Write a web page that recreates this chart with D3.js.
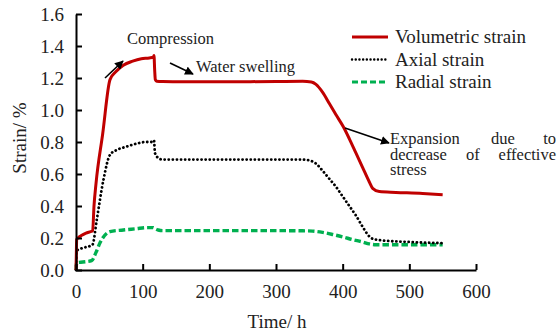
<!DOCTYPE html>
<html>
<head>
<meta charset="utf-8">
<script src="https://cdn.jsdelivr.net/npm/d3@7"></script>
<style>
  html, body { margin: 0; padding: 0; background: #fff; }
  svg text { font-family: "Liberation Serif", "Times New Roman", "DejaVu Serif", serif !important; }
</style>
</head>
<body>
<svg id="chart" width="560" height="336"></svg>
<script>
// Strain histories (time in h, strain in %)
const volTime  = [0, 0.5, 1, 3, 8, 15, 22, 25, 27, 30, 40, 51, 60, 71, 85, 98, 110, 116, 117, 118, 119, 121, 130, 150, 200, 250, 300, 340, 353, 360, 370, 380, 390, 401, 410, 420, 430, 440, 445, 455, 480, 520, 550];
const volValue = [0, 0.1, 0.19, 0.2, 0.215, 0.23, 0.24, 0.245, 0.4, 0.54, 0.85, 1.19, 1.24, 1.28, 1.305, 1.32, 1.325, 1.33, 1.34, 1.25, 1.19, 1.18, 1.178, 1.177, 1.176, 1.177, 1.178, 1.179, 1.175, 1.16, 1.11, 1.04, 0.97, 0.895, 0.82, 0.73, 0.64, 0.55, 0.51, 0.49, 0.485, 0.478, 0.47];

const axTime  = [0, 0.5, 1, 5, 12, 21, 25, 31, 41, 51, 61, 75, 91, 105, 113, 116, 117, 118.5, 123.5, 130, 200, 300, 340, 350, 360, 370, 380, 390, 400, 410, 420, 430, 440, 445, 460, 500, 550];
const axValue = [0, 0.06, 0.12, 0.13, 0.14, 0.15, 0.16, 0.31, 0.56, 0.72, 0.75, 0.77, 0.79, 0.8, 0.8, 0.81, 0.81, 0.73, 0.7, 0.69, 0.69, 0.69, 0.69, 0.685, 0.665, 0.62, 0.57, 0.52, 0.46, 0.4, 0.34, 0.27, 0.21, 0.195, 0.185, 0.175, 0.168];

const radTime  = [0, 0.5, 1, 5, 15, 23.5, 30, 36, 51, 71, 90, 106, 116, 118, 123.5, 130, 200, 300, 340, 355, 370, 385, 400, 415, 430, 440, 450, 500, 550];
const radValue = [0, 0.03, 0.045, 0.048, 0.052, 0.058, 0.11, 0.17, 0.24, 0.25, 0.258, 0.265, 0.265, 0.26, 0.25, 0.246, 0.246, 0.246, 0.245, 0.243, 0.235, 0.222, 0.207, 0.19, 0.175, 0.163, 0.158, 0.158, 0.158];

const xTicks = [0, 100, 200, 300, 400, 500, 600];
const yTicks = [0, 0.2, 0.4, 0.6, 0.8, 1.0, 1.2, 1.4, 1.6];

const seriesNames = ["Volumetric strain", "Axial strain", "Radial strain"];

const svg = d3.select("#chart");

const x = d3.scaleLinear().domain([0, 600]).range([76, 476]);
const y = d3.scaleLinear().domain([0, 1.6]).range([270, 14]);

const styles = [
  { color: "#c00000", width: 3, dash: null, cap: "butt" },
  { color: "#000000", width: 2.8, dash: "0.1 4", cap: "round" },
  { color: "#00b050", width: 3.4, dash: "6.5 3", cap: "butt" }
];

const series = [
  volTime.map((t, i) => [t, volValue[i]]),
  axTime.map((t, i) => [t, axValue[i]]),
  radTime.map((t, i) => [t, radValue[i]])
];

const line = d3.line().x(d => x(d[0])).y(d => y(d[1])).curve(d3.curveMonotoneX);

// Curves: draw radial first so volumetric sits on top
[2, 1, 0].forEach(i => {
  svg.append("path")
    .datum(series[i])
    .attr("fill", "none")
    .attr("stroke", styles[i].color)
    .attr("stroke-width", styles[i].width)
    .attr("stroke-linecap", styles[i].cap)
    .attr("stroke-linejoin", "round")
    .attr("stroke-dasharray", styles[i].dash)
    .attr("d", line);
});

// Axes with inward ticks
const xAxis = svg.append("g")
  .attr("transform", "translate(0,270)")
  .call(d3.axisBottom(x).tickValues(xTicks).tickSizeInner(-6).tickSizeOuter(0).tickPadding(15).tickFormat(d3.format("d")));
const yAxis = svg.append("g")
  .attr("transform", "translate(76,0)")
  .call(d3.axisLeft(y).tickValues(yTicks).tickSizeInner(-6).tickSizeOuter(0).tickPadding(12).tickFormat(d3.format(".1f")));

[xAxis, yAxis].forEach(g => {
  g.attr("font-family", null);
  g.select(".domain").attr("stroke", "#000").attr("stroke-width", 2);
  g.selectAll(".tick line").attr("stroke", "#000").attr("stroke-width", 2);
  g.selectAll(".tick text")
    .attr("font-size", 19)
    .attr("fill", "#222");
});

// Axis titles
svg.append("text")
  .attr("x", 277).attr("y", 328)
  .attr("text-anchor", "middle")
  .attr("font-size", 19).attr("fill", "#222")
  .text("Time/ h");
svg.append("text")
  .attr("transform", "translate(26,138) rotate(-90)")
  .attr("text-anchor", "middle")
  .attr("font-size", 19).attr("fill", "#222")
  .text("Strain/ %");

// Legend
const legend = svg.append("g");
seriesNames.forEach((name, i) => {
  const ly = 37 + i * 22.5;
  legend.append("line")
    .attr("x1", 352).attr("x2", 388)
    .attr("y1", ly).attr("y2", ly)
    .attr("stroke", styles[i].color)
    .attr("stroke-width", i === 1 ? 2.4 : 2.8)
    .attr("stroke-linecap", styles[i].cap)
    .attr("stroke-dasharray", i === 1 ? "0.1 3.6" : (i === 2 ? "6 3" : null));
  legend.append("text")
    .attr("x", 395).attr("y", ly + 6)
    .attr("font-size", 19).attr("fill", "#222")
    .text(name);
});

// Annotations
const defs = svg.append("defs");
defs.append("marker")
  .attr("id", "arrowhead")
  .attr("viewBox", "0 0 10 10")
  .attr("refX", 9).attr("refY", 5)
  .attr("markerWidth", 5.5).attr("markerHeight", 5.5)
  .attr("orient", "auto")
  .append("path")
  .attr("d", "M0,0 L10,5 L0,10 z")
  .attr("fill", "#000");

const arrows = [
  [105, 78, 123, 61],
  [170, 63, 193, 74],
  [345, 128, 389, 143]
];
arrows.forEach(a => {
  svg.append("line")
    .attr("x1", a[0]).attr("y1", a[1]).attr("x2", a[2]).attr("y2", a[3])
    .attr("stroke", "#000").attr("stroke-width", 1.6)
    .attr("marker-end", "url(#arrowhead)");
});

const note = (tx, ty, s, anchor) => svg.append("text")
  .attr("x", tx).attr("y", ty)
  .attr("text-anchor", anchor || "start")
  .attr("font-size", 16.5).attr("fill", "#222")
  .text(s);

note(127, 44, "Compression");
note(196, 72, "Water swelling");

// Justified multi-line note
note(390, 144, "Expansion");
note(491, 144, "due");
note(556, 144, "to", "end");
note(390, 159.5, "decrease");
note(466, 159.5, "of");
note(556, 159.5, "effective", "end");
note(390, 175, "stress");
</script>
</body>
</html>
